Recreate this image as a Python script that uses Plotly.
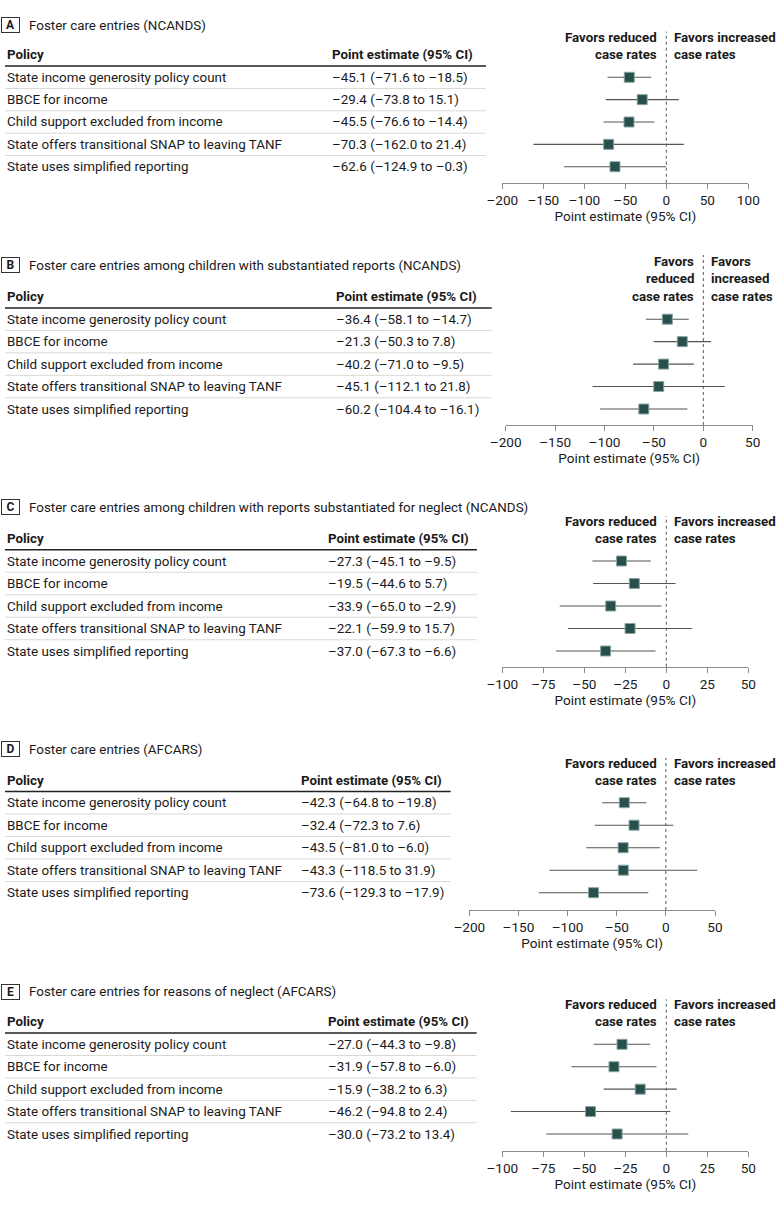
import plotly.graph_objects as go

W, H = 780, 1205

policies = [
    "State income generosity policy count",
    "BBCE for income",
    "Child support excluded from income",
    "State offers transitional SNAP to leaving TANF",
    "State uses simplified reporting",
]

letters = ["A", "B", "C", "D", "E"]
titles = [
    "Foster care entries (NCANDS)",
    "Foster care entries among children with substantiated reports (NCANDS)",
    "Foster care entries among children with reports substantiated for neglect (NCANDS)",
    "Foster care entries (AFCARS)",
    "Foster care entries for reasons of neglect (AFCARS)",
]

est_A = [-45.1, -29.4, -45.5, -70.3, -62.6]
lo_A = [-71.6, -73.8, -76.6, -162.0, -124.9]
hi_A = [-18.5, 15.1, -14.4, 21.4, -0.3]

est_B = [-36.4, -21.3, -40.2, -45.1, -60.2]
lo_B = [-58.1, -50.3, -71.0, -112.1, -104.4]
hi_B = [-14.7, 7.8, -9.5, 21.8, -16.1]

est_C = [-27.3, -19.5, -33.9, -22.1, -37.0]
lo_C = [-45.1, -44.6, -65.0, -59.9, -67.3]
hi_C = [-9.5, 5.7, -2.9, 15.7, -6.6]

est_D = [-42.3, -32.4, -43.5, -43.3, -73.6]
lo_D = [-64.8, -72.3, -81.0, -118.5, -129.3]
hi_D = [-19.8, 7.6, -6.0, 31.9, -17.9]

est_E = [-27.0, -31.9, -15.9, -46.2, -30.0]
lo_E = [-44.3, -57.8, -38.2, -94.8, -73.2]
hi_E = [-9.8, -6.0, 6.3, 2.4, 13.4]

x_ranges = [[-200, 100], [-200, 50], [-100, 50], [-200, 50], [-100, 50]]
x_dticks = [50, 50, 25, 50, 25]

left_labels = [["Favors reduced", "case rates"], ["Favors", "reduced", "case rates"],
               ["Favors reduced", "case rates"], ["Favors reduced", "case rates"],
               ["Favors reduced", "case rates"]]
right_labels = [["Favors increased", "case rates"], ["Favors", "increased", "case rates"],
                ["Favors increased", "case rates"], ["Favors increased", "case rates"],
                ["Favors increased", "case rates"]]

col_head_policy = "Policy"
col_head_est = "Point estimate (95% CI)"
axis_title = "Point estimate (95% CI)"

panels = [
    (est_A, lo_A, hi_A), (est_B, lo_B, hi_B), (est_C, lo_C, hi_C),
    (est_D, lo_D, hi_D), (est_E, lo_E, hi_E),
]

# ---- layout geometry (pixels) ----
geom = [
    dict(r0=77.3, rN=166.7, ay=182.7, top=31.7, ty=25.0, pe=331, te=486, xpx=(502.3, 748.3), fy=37.3),
    dict(r0=319.2, rN=409.0, ay=425.0, top=255.0, ty=265.0, pe=335, te=491.7, xpx=(505.7, 752.7), fy=261.7),
    dict(r0=561.0, rN=651.0, ay=666.7, top=516.0, ty=507.3, pe=326.7, te=477, xpx=(502.3, 748.3), fy=521.7),
    dict(r0=802.7, rN=892.7, ay=910.0, top=758.0, ty=749.3, pe=300, te=450.7, xpx=(469.3, 715.0), fy=763.3),
    dict(r0=1044.3, rN=1134.0, ay=1150.7, top=999.3, ty=991.7, pe=326.7, te=476.7, xpx=(502.3, 748.3), fy=1004.3),
]

FONT = "Roboto, Liberation Sans, Arial, sans-serif"
FS = 13.4
FSB = 13.3
TXT = "#1a1a1a"
MARK = "#27504d"
MARK_EDGE = "#8aa5a2"
CI = "#555555"
AXC = "#8c8c8c"
SEP = "#d9dad2"
DASH = "\u2013"


def fmt(v):
    return f"{v:.1f}".replace("-", DASH)


def px2x(p):
    return p / W


def px2y(p):
    return 1 - p / H


fig = go.Figure()
annotations = []
shapes = []
layout_axes = {}

for k, ((est, lo, hi), g) in enumerate(zip(panels, geom), start=1):
    xa = "x" if k == 1 else f"x{k}"
    ya = "y" if k == 1 else f"y{k}"
    n = len(policies)
    s = (g["rN"] - g["r0"]) / (n - 1)
    bottom_idx = (g["ay"] - g["r0"]) / s
    top_idx = (g["top"] - g["r0"]) / s

    fig.add_trace(go.Scatter(
        x=est, y=policies, xaxis=xa, yaxis=ya, mode="markers",
        marker=dict(symbol="square", size=10, color=MARK,
                    line=dict(color=MARK_EDGE, width=1)),
        error_x=dict(type="data", symmetric=False,
                     array=[h - e for h, e in zip(hi, est)],
                     arrayminus=[e - l for e, l in zip(est, lo)],
                     color=CI, thickness=1.1, width=0),
        showlegend=False, hoverinfo="skip",
    ))

    xr = x_ranges[k - 1]
    dt = x_dticks[k - 1]
    tv = list(range(xr[0], xr[1] + 1, dt))
    layout_axes["xaxis" if k == 1 else f"xaxis{k}"] = dict(
        domain=[px2x(g["xpx"][0]), px2x(g["xpx"][1])], range=xr, anchor=ya,
        tickvals=tv, ticktext=[str(t).replace("-", DASH) for t in tv], tickangle=0,
        showline=True, linecolor=AXC, linewidth=1.2, ticks="outside",
        ticklen=5, tickcolor=AXC, tickwidth=1.2, showgrid=False, zeroline=False,
        automargin=False,
        tickfont=dict(size=13.6, color=TXT, family=FONT),
        title=dict(text=axis_title, font=dict(size=13.6, color=TXT, family=FONT), standoff=4),
        fixedrange=True,
    )
    layout_axes["yaxis" if k == 1 else f"yaxis{k}"] = dict(
        domain=[px2y(g["ay"]), px2y(g["top"])], anchor=xa,
        type="category", categoryarray=policies, categoryorder="array",
        range=[bottom_idx, top_idx], showticklabels=False, showgrid=False,
        zeroline=False, showline=False, ticks="", fixedrange=True, automargin=False,
    )

    # zero reference line
    shapes.append(dict(type="line", xref=xa, yref=f"{ya} domain", x0=0, x1=0, y0=0, y1=1,
                       line=dict(color="#555555", width=1, dash="dot")))
    # table header rule & separators
    shapes.append(dict(type="line", xref="paper", yref=ya, x0=px2x(5), x1=px2x(g["te"]),
                       y0=-0.5, y1=-0.5, line=dict(color="#222222", width=1.5)))
    for i in range(n - 1):
        shapes.append(dict(type="line", xref="paper", yref=ya, x0=px2x(5), x1=px2x(g["te"]),
                           y0=i + 0.5, y1=i + 0.5, line=dict(color=SEP, width=1)))

    # panel letter and title
    annotations.append(dict(xref="paper", yref="paper", x=px2x(10.5), y=px2y(g["ty"]),
                            text=f"<b>{letters[k-1]}</b>", showarrow=False,
                            xanchor="center", yanchor="middle",
                            font=dict(size=12, color=TXT, family=FONT),
                            bordercolor="#333333", borderwidth=1, borderpad=1,
                            width=15, height=12))
    annotations.append(dict(xref="paper", yref="paper", x=px2x(26.5), y=px2y(g["ty"]),
                            text=titles[k-1], showarrow=False, xanchor="left", yanchor="middle",
                            font=dict(size=FS, color=TXT, family=FONT)))
    # headers
    annotations.append(dict(xref="paper", yref=ya, x=px2x(5), y=-1, text=f"<b>{col_head_policy}</b>",
                            showarrow=False, xanchor="left", yanchor="middle",
                            font=dict(size=FSB, color=TXT, family=FONT)))
    annotations.append(dict(xref="paper", yref=ya, x=px2x(g["pe"] - 1), y=-1, text=f"<b>{col_head_est}</b>",
                            showarrow=False, xanchor="left", yanchor="middle",
                            font=dict(size=FSB, color=TXT, family=FONT)))
    # rows
    for i, pol in enumerate(policies):
        annotations.append(dict(xref="paper", yref=ya, x=px2x(5), y=i, text=pol,
                                showarrow=False, xanchor="left", yanchor="middle",
                                font=dict(size=FS, color=TXT, family=FONT)))
        annotations.append(dict(xref="paper", yref=ya, x=px2x(g["pe"] - 1), y=i,
                                text=f"{fmt(est[i])} ({fmt(lo[i])} to {fmt(hi[i])})",
                                showarrow=False, xanchor="left", yanchor="middle",
                                font=dict(size=FS, color=TXT, family=FONT)))
    # favors labels (one annotation per line)
    for j, line in enumerate(left_labels[k - 1]):
        annotations.append(dict(xref=xa, yref="paper", x=0, y=px2y(g["fy"] + 17.2 * j), xshift=-7,
                                text=f"<b>{line}</b>", showarrow=False,
                                xanchor="right", yanchor="middle",
                                font=dict(size=FSB, color=TXT, family=FONT)))
    for j, line in enumerate(right_labels[k - 1]):
        annotations.append(dict(xref=xa, yref="paper", x=0, y=px2y(g["fy"] + 17.2 * j), xshift=6,
                                text=f"<b>{line}</b>", showarrow=False,
                                xanchor="left", yanchor="middle",
                                font=dict(size=FSB, color=TXT, family=FONT)))

fig.update_layout(
    width=W, height=H, margin=dict(l=0, r=0, t=0, b=0, autoexpand=False),
    paper_bgcolor="white", plot_bgcolor="white", showlegend=False,
    font=dict(family=FONT, color=TXT, size=FS),
    annotations=annotations, shapes=shapes, **layout_axes,
)

fig.write_html(
    "out.html",
    config={"displayModeBar": False},
    post_script="document.body.style.margin='0';document.body.style.overflow='hidden';",
)
